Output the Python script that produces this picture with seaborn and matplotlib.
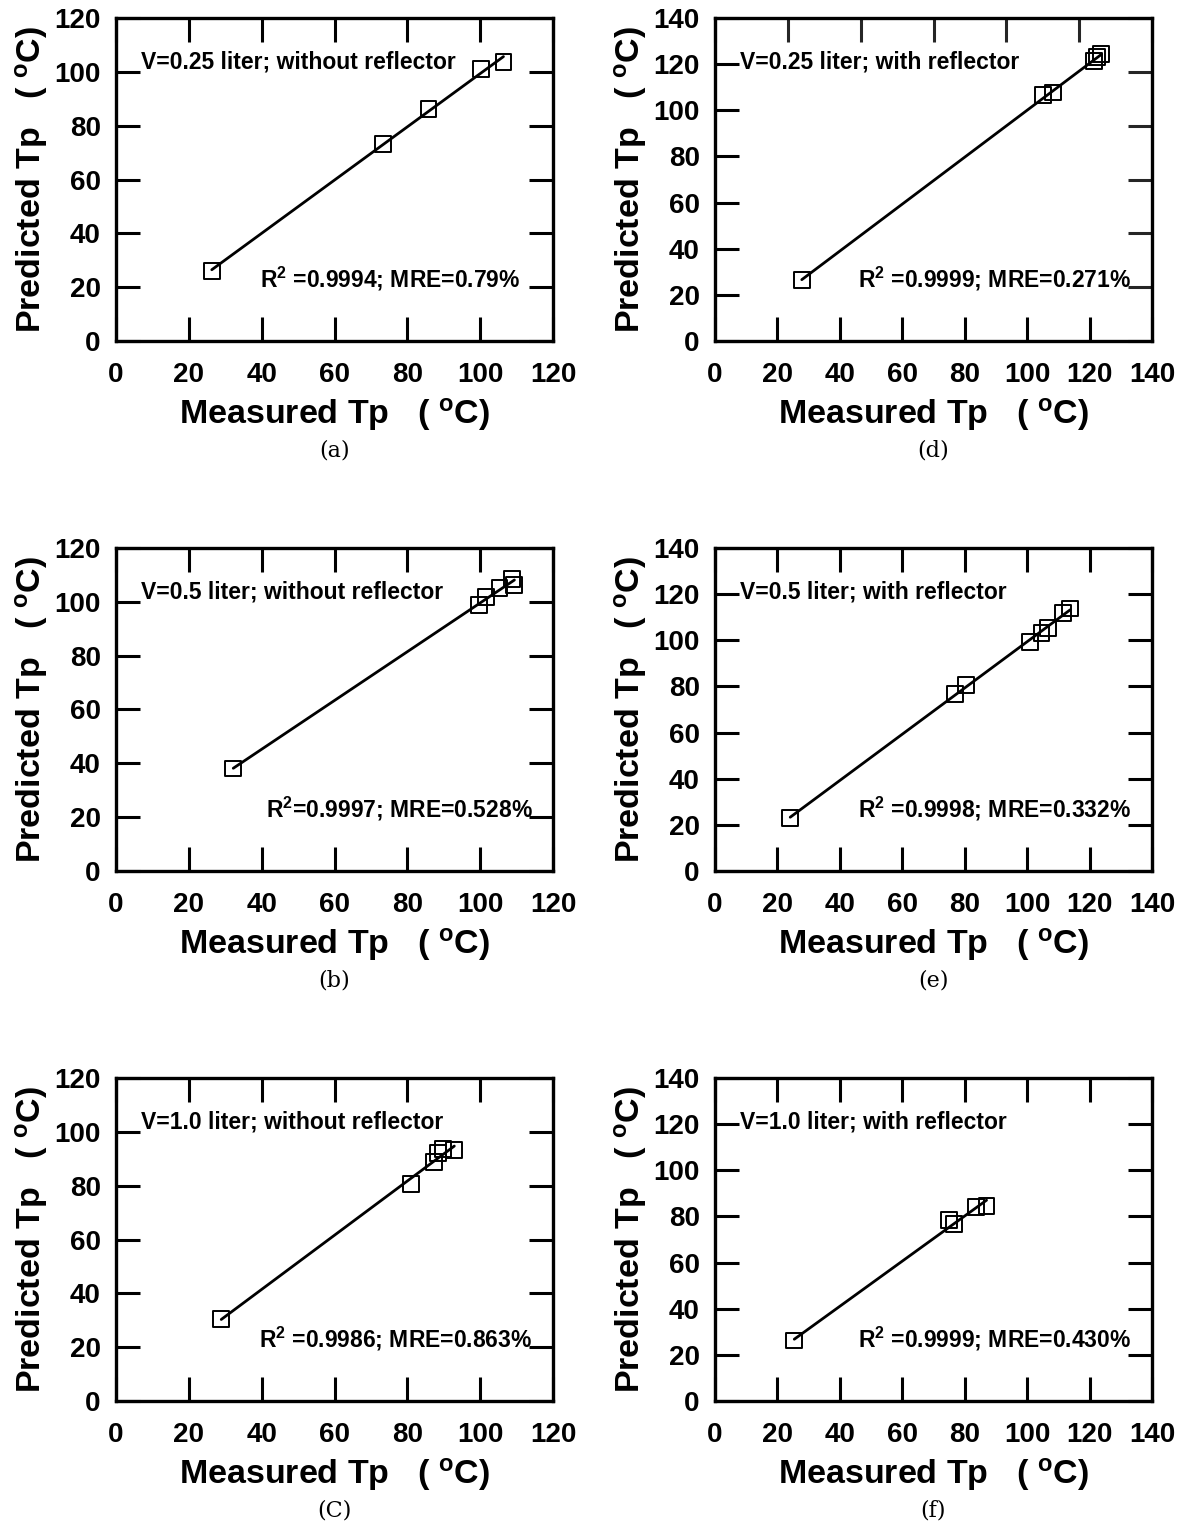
import matplotlib
matplotlib.use("Agg")
import matplotlib.pyplot as plt
import seaborn as sns
import numpy as np

# measured vs predicted plate temperature
a_meas = [26.3, 73.4, 85.8, 100.2, 106.4]
a_pred = [26.0, 73.3, 86.3, 100.9, 103.5]
b_meas = [32.2, 99.6, 101.6, 105.3, 108.8, 109.4]
b_pred = [38.1, 98.7, 101.9, 105.2, 108.4, 106.2]
c_meas = [28.9, 81.0, 87.4, 88.5, 89.9, 92.9]
c_pred = [30.5, 80.6, 88.9, 92.0, 93.6, 93.3]
d_meas = [27.8, 105.2, 108.4, 121.5, 122.5, 123.7]
d_pred = [26.5, 106.5, 107.7, 121.4, 123.0, 124.3]
e_meas = [24.1, 77.0, 80.4, 101.0, 104.6, 106.8, 111.5, 113.8]
e_pred = [23.0, 76.8, 80.8, 99.2, 103.3, 105.5, 111.7, 113.8]
f_meas = [25.4, 75.0, 76.6, 83.5, 87.0]
f_pred = [26.2, 78.3, 76.7, 84.0, 84.4]

case_labels = ["V=0.25 liter; without reflector", "V=0.5 liter; without reflector",
               "V=1.0 liter; without reflector", "V=0.25 liter; with reflector",
               "V=0.5 liter; with reflector", "V=1.0 liter; with reflector"]
stat_labels = [r"R$^{2}$ =0.9994; MRE=0.79%", r"R$^{2}$=0.9997; MRE=0.528%",
               r"R$^{2}$ =0.9986; MRE=0.863%", r"R$^{2}$ =0.9999; MRE=0.271%",
               r"R$^{2}$ =0.9998; MRE=0.332%", r"R$^{2}$ =0.9999; MRE=0.430%"]
sub_labels = ["(a)", "(b)", "(C)", "(d)", "(e)", "(f)"]
axis_max = [120, 120, 120, 140, 140, 140]

sns.set_style("ticks")
plt.rcParams['font.family'] = ['Liberation Sans', 'DejaVu Sans']
plt.rcParams['font.weight'] = 'bold'
plt.rcParams['text.color'] = 'black'
plt.rcParams['axes.labelcolor'] = 'black'
plt.rcParams['mathtext.fontset'] = 'custom'
plt.rcParams['mathtext.rm'] = 'Liberation Sans:bold'
plt.rcParams['mathtext.it'] = 'Liberation Sans:bold'
plt.rcParams['mathtext.bf'] = 'Liberation Sans:bold'
plt.rcParams['mathtext.default'] = 'bf'

fig = plt.figure(figsize=(11.85, 15.24), dpi=100)

W, H = 1185.0, 1524.0
col_left = [116, 715]
row_top = [18, 548, 1078]
ax_w, ax_h = 437, 323

panels = [(a_meas, a_pred), (b_meas, b_pred), (c_meas, c_pred),
          (d_meas, d_pred), (e_meas, e_pred), (f_meas, f_pred)]

tick_len = 17
tick_w = 2.2

for k, (xm, yp) in enumerate(panels):
    col = k // 3
    row = k % 3
    left = col_left[col] / W
    bottom = 1 - (row_top[row] + ax_h) / H
    ax = fig.add_axes([left, bottom, ax_w / W, ax_h / H])

    sns.regplot(x=np.array(xm), y=np.array(yp), ax=ax, ci=None, truncate=True,
                marker='s',
                scatter_kws=dict(facecolors='none', edgecolors='black', s=130,
                                 linewidths=1.4, alpha=1, zorder=3),
                line_kws=dict(color='black', lw=2.0, zorder=4))

    vmax = axis_max[k]
    ax.set_xlim(0, vmax)
    ax.set_ylim(0, vmax)
    ticks = np.arange(0, vmax + 1, 20)
    ax.set_xticks(ticks)
    ax.set_yticks(ticks)

    for sp in ax.spines.values():
        sp.set_linewidth(2.4)
        sp.set_color('black')

    ax.tick_params(axis='both', direction='in', length=tick_len, width=tick_w,
                   labelsize=20, colors='black')
    ax.tick_params(axis='x', pad=15)
    ax.tick_params(axis='y', pad=11)

    if k == 3:
        # top/right scale in panel (d) is still the 0-120 one
        sx = ax.secondary_xaxis('top', functions=(lambda v: v * 120 / 140, lambda v: v * 140 / 120))
        sy = ax.secondary_yaxis('right', functions=(lambda v: v * 120 / 140, lambda v: v * 140 / 120))
        for sec in (sx, sy):
            sec.set_ticks(np.arange(0, 121, 20))
            sec.tick_params(direction='in', length=tick_len, width=tick_w,
                            labeltop=False, labelright=False, labelleft=False, labelbottom=False)
    else:
        ax.tick_params(top=True, right=True)

    for lab in ax.get_xticklabels() + ax.get_yticklabels():
        lab.set_fontweight('bold')

    ax.set_xlabel(r"Measured Tp   ( $^{o}$C)", fontsize=24.5, fontweight='bold', labelpad=6)
    ax.set_ylabel(r"Predicted Tp   ( $^{o}$C)", fontsize=24.5, fontweight='bold', labelpad=3)

    ax.text(0.058, 0.843, case_labels[k], transform=ax.transAxes, fontsize=16.5,
            fontweight='bold', ha='left', va='baseline')
    stat_x = 0.926 if k == 0 else 0.953
    ax.text(stat_x, 0.167, stat_labels[k], transform=ax.transAxes, fontsize=16.5,
            fontweight='bold', ha='right', va='baseline')

    ax.text(0.5, -0.34, sub_labels[k], transform=ax.transAxes, fontsize=16,
            fontweight='normal', family=['DejaVu Serif'],
            ha='center', va='center')

fig.savefig("out.png", dpi=100, facecolor='white')
